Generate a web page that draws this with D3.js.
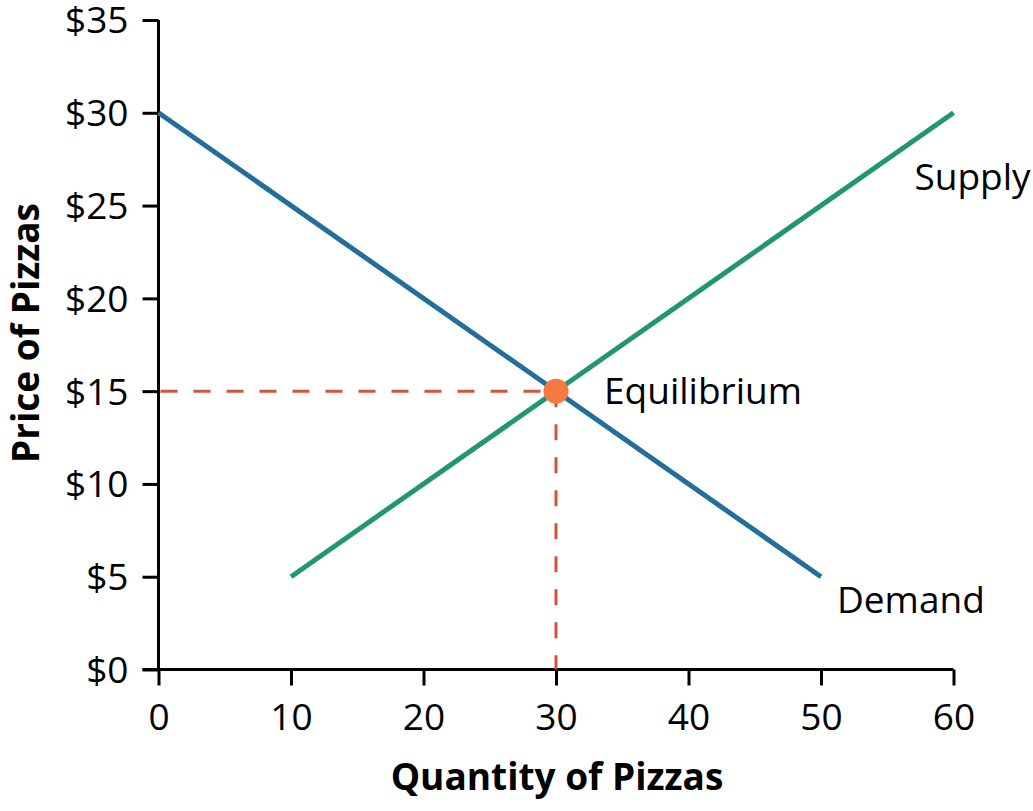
<!DOCTYPE html>
<html><head><meta charset="utf-8">
<script src="https://cdn.jsdelivr.net/npm/d3@7"></script>
<style>body{margin:0;background:#fff}svg{display:block}text{font-family:"Open Sans",sans-serif}</style>
</head><body><svg id="c" width="1033" height="811"></svg>
<script>
const xTicks = [0,10,20,30,40,50,60];
const yTicks = [0,5,10,15,20,25,30,35];
const demandQ = [0,50];
const demandP = [30,5];
const supplyQ = [10,60];
const supplyP = [5,30];
const eqQ = [30];
const eqP = [15];
const xTitle = "Quantity of Pizzas";
const yTitle = "Price of Pizzas";

const svg = d3.select("#c");
const x = d3.scaleLinear().domain([0,60]).range([158.5,953.5]);
const y = d3.scaleLinear().domain([0,35]).range([669.5,20]);

const fs = 37;
// axes
const xa = svg.append("g").attr("transform",`translate(0,${y(0)})`)
  .call(d3.axisBottom(x).tickValues(xTicks).tickSize(16).tickPadding(18).tickFormat(d3.format("d")));
const ya = svg.append("g").attr("transform",`translate(${x(0)},0)`)
  .call(d3.axisLeft(y).tickValues(yTicks).tickSize(16).tickPadding(14).tickFormat(d=>"$"+d));
[xa,ya].forEach(a=>{
  a.select(".domain").attr("stroke","#000").attr("stroke-width",3);
  a.selectAll(".tick line").attr("stroke","#000").attr("stroke-width",3);
  a.selectAll(".tick text").attr("fill","#000").style("font-size",fs+"px").style("font-family","Open Sans");
});
xa.select(".domain").attr("d",`M${x(0)-16},0H${x(60)}`);
ya.select(".domain").attr("d",`M0,${y(0)}V${y(35)}`);
ya.selectAll(".tick text").attr("dy","0.35em");

// dashed guides
const dash = "#d2553a";
svg.append("line").attr("x1",x(0)+2).attr("x2",x(eqQ[0])).attr("y1",y(eqP[0])).attr("y2",y(eqP[0]))
  .attr("stroke",dash).attr("stroke-width",3).attr("stroke-dasharray","17,16");
svg.append("line").attr("x1",x(eqQ[0])).attr("x2",x(eqQ[0])).attr("y1",y(eqP[0])).attr("y2",y(0))
  .attr("stroke",dash).attr("stroke-width",3).attr("stroke-dasharray","16,17");

const line = d3.line().x(d=>x(d[0])).y(d=>y(d[1]));
svg.append("path").attr("d",line(d3.zip(demandQ,demandP))).attr("stroke","#236f9b").attr("stroke-width",5).attr("fill","none");
svg.append("path").attr("d",line(d3.zip(supplyQ,supplyP))).attr("stroke","#229670").attr("stroke-width",5).attr("fill","none");

svg.append("circle").attr("cx",x(eqQ[0])).attr("cy",y(eqP[0])).attr("r",12.5).attr("fill","#f47a42");

// labels
const lab = (t,xx,yy)=>svg.append("text").attr("x",xx).attr("y",yy).text(t).style("font-size",fs+"px").attr("fill","#000");
lab("Equilibrium", x(eqQ[0])+48, y(eqP[0])+13);
lab("Supply", x(60)-39, y(30)+77);
lab("Demand", x(50)+16, y(5)+36);

svg.append("text").attr("x",557).attr("y",790).attr("text-anchor","middle").style("font-size","37px").style("font-weight","bold").text(xTitle);
svg.append("text").attr("transform","translate(39,333) rotate(-90)").attr("text-anchor","middle").style("font-size","37px").style("font-weight","bold").text(yTitle);
</script></body></html>
